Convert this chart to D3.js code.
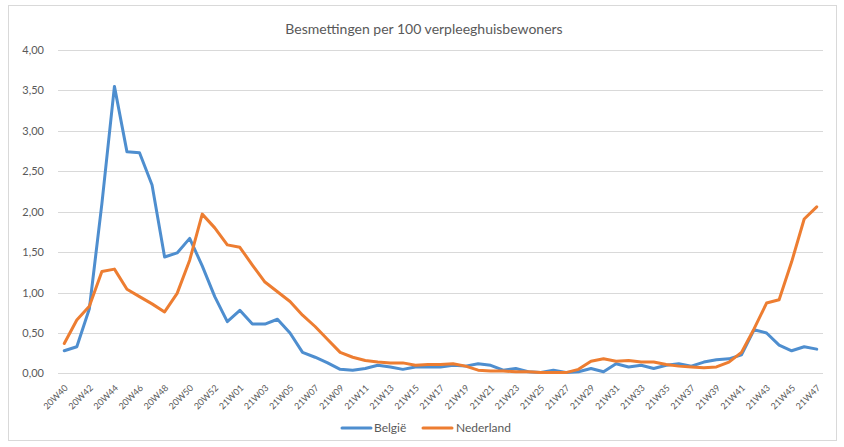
<!DOCTYPE html>
<html>
<head>
<meta charset="utf-8">
<script src="https://cdn.jsdelivr.net/npm/d3@7"></script>
<style>
  html, body { margin: 0; padding: 0; background: #fff; }
  svg { display: block; }
  text { font-family: Lato, "Open Sans", sans-serif; fill: #595959; }
</style>
</head>
<body>
<svg id="chart" width="844" height="447"></svg>
<script>
// ---- data ----
const weeks = [
  "20W40","20W41","20W42","20W43","20W44","20W45","20W46","20W47","20W48","20W49",
  "20W50","20W51","20W52","20W53",
  "21W01","21W02","21W03","21W04","21W05","21W06","21W07","21W08","21W09","21W10",
  "21W11","21W12","21W13","21W14","21W15","21W16","21W17","21W18","21W19","21W20",
  "21W21","21W22","21W23","21W24","21W25","21W26","21W27","21W28","21W29","21W30",
  "21W31","21W32","21W33","21W34","21W35","21W36","21W37","21W38","21W39","21W40",
  "21W41","21W42","21W43","21W44","21W45","21W46","21W47"
];
const belgie = [
  0.28,0.33,0.80,2.10,3.55,2.74,2.73,2.33,1.44,1.49,
  1.67,1.33,0.95,0.64,
  0.78,0.61,0.61,0.67,0.50,0.26,0.20,0.13,0.05,0.04,
  0.06,0.10,0.08,0.05,0.08,0.08,0.08,0.10,0.09,0.12,
  0.10,0.04,0.06,0.02,0.01,0.04,0.01,0.02,0.06,0.02,
  0.12,0.08,0.10,0.06,0.10,0.12,0.09,0.14,0.17,0.18,
  0.23,0.54,0.50,0.35,0.28,0.33,0.30
];
const nederland = [
  0.37,0.66,0.83,1.26,1.29,1.04,0.95,0.86,0.76,0.99,
  1.40,1.97,1.80,1.59,
  1.56,1.34,1.13,1.01,0.89,0.72,0.58,0.42,0.26,0.20,
  0.16,0.14,0.13,0.13,0.10,0.11,0.11,0.12,0.09,0.04,
  0.03,0.03,0.02,0.02,0.01,0.01,0.01,0.05,0.15,0.18,
  0.15,0.16,0.14,0.14,0.11,0.09,0.08,0.07,0.08,0.14,
  0.26,0.55,0.87,0.91,1.38,1.91,2.06
];
const yTicks = [0, 0.5, 1, 1.5, 2, 2.5, 3, 3.5, 4];
const seriesNames = ["België", "Nederland"];
const seriesColors = ["#4E8ECF", "#ED7D31"];
const title = "Besmettingen per 100 verpleeghuisbewoners";

// ---- layout ----
const svg = d3.select("#chart");
const plot = { left: 58, right: 823, top: 50, bottom: 373.4 };

// outer frame
svg.append("rect").attr("x", 8.5).attr("y", 5.5).attr("width", 828).attr("height", 435)
  .attr("fill", "#fff").attr("stroke", "#d9d9d9").attr("stroke-width", 1);

const x = d3.scaleBand().domain(weeks).range([plot.left, plot.right]).padding(0);
const y = d3.scaleLinear().domain([0, 4]).range([plot.bottom, plot.top]);
const fmt = v => d3.format(".2f")(v).replace(".", ",");

// gridlines
svg.append("g").selectAll("line").data(yTicks).join("line")
  .attr("x1", plot.left).attr("x2", plot.right)
  .attr("y1", d => Math.round(y(d)) + 0.5).attr("y2", d => Math.round(y(d)) + 0.5)
  .attr("stroke", "#d9d9d9").attr("stroke-width", 1);

// y axis labels
const yAxis = d3.axisLeft(y).tickValues(yTicks).tickFormat(fmt).tickSize(0).tickPadding(0);
const gy = svg.append("g").attr("transform", `translate(44,0)`).call(yAxis);
gy.select(".domain").remove();
gy.selectAll("text").style("font-size", "11px").attr("fill", "#595959")
  .style("font-family", "Lato, 'Open Sans', sans-serif");

// x axis labels (every other week)
const labelWeeks = weeks.filter((w, i) => i % 2 === 0);
const xAxis = d3.axisBottom(x).tickValues(labelWeeks).tickSize(0).tickPadding(0);
const gx = svg.append("g").attr("transform", `translate(0,${plot.bottom})`).call(xAxis);
gx.select(".domain").remove();
gx.selectAll("text")
  .style("font-size", "9px").attr("fill", "#595959")
  .style("font-family", "Lato, 'Open Sans', sans-serif")
  .attr("text-anchor", "end")
  .attr("dy", "0.35em")
  .attr("transform", "translate(2,13) rotate(-45)")
  .attr("y", 0).attr("x", 0);

// lines
const cx = w => x(w) + x.bandwidth() / 2;
const series = [belgie, nederland];
series.forEach((vals, si) => {
  const line = d3.line().x((d, i) => cx(weeks[i])).y(d => y(d));
  svg.append("path").datum(vals)
    .attr("fill", "none").attr("stroke", seriesColors[si])
    .attr("stroke-width", 3).attr("stroke-linejoin", "round").attr("stroke-linecap", "round")
    .attr("d", line);
});

// title
svg.append("text").attr("x", 424).attr("y", 34).attr("text-anchor", "middle")
  .style("font-size", "14px").text(title);

// legend
const legendY = 428;
const legendItems = [{ x0: 342, tx: 374 }, { x0: 423, tx: 456 }];
seriesNames.forEach((name, i) => {
  const it = legendItems[i];
  svg.append("line").attr("x1", it.x0).attr("x2", it.x0 + 29)
    .attr("y1", legendY).attr("y2", legendY)
    .attr("stroke", seriesColors[i]).attr("stroke-width", 3).attr("stroke-linecap", "round");
  svg.append("text").attr("x", it.tx).attr("y", legendY).attr("dy", "0.35em")
    .style("font-size", "12px").text(name);
});
</script>
</body>
</html>
